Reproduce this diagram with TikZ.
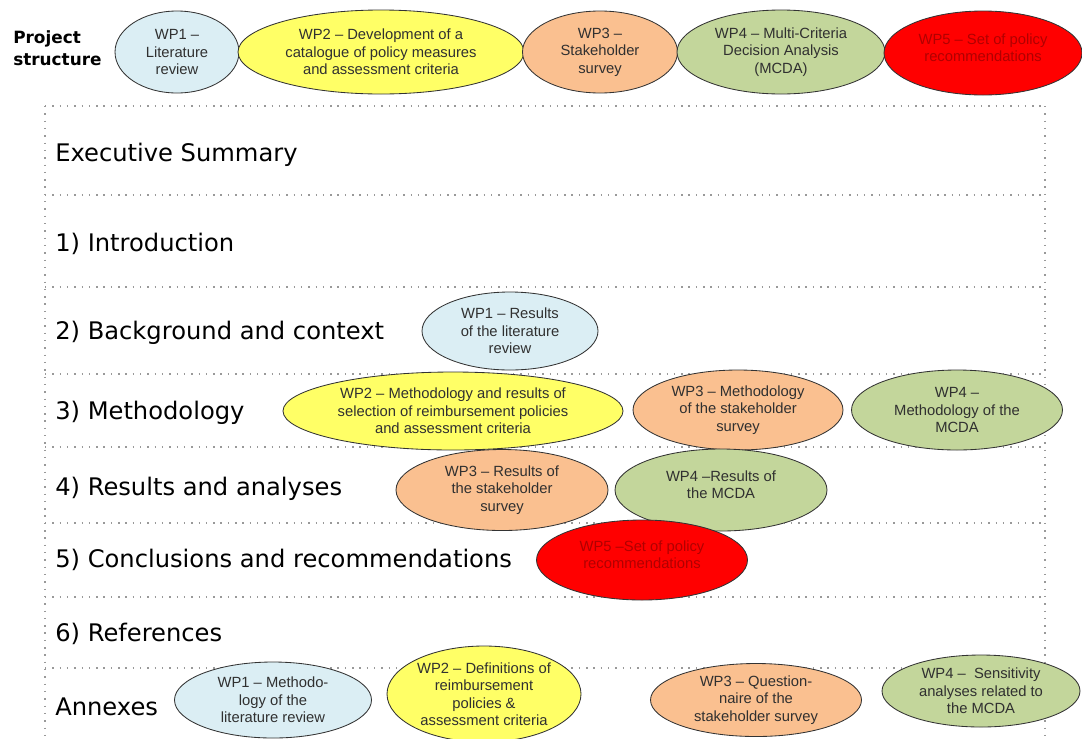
\documentclass[tikz,border=0pt]{standalone}
\usepackage{fontspec}
\setmainfont{Liberation Sans}
\newfontfamily\headfont{DejaVu Sans}
\usetikzlibrary{positioning, shapes.geometric}

\definecolor{wpblue}{HTML}{DBEEF4}
\definecolor{wpyellow}{HTML}{FFFF66}
\definecolor{wporange}{HTML}{FAC090}
\definecolor{wpgreen}{HTML}{C3D69B}
\definecolor{wpred}{HTML}{FF0000}
\definecolor{wpredtext}{HTML}{B00000}
\definecolor{wptext}{HTML}{303030}

\begin{document}
\begin{tikzpicture}[
        x=0.025cm, y=-0.025cm,
        wp/.style={ellipse, draw=black!80, line width=0.6pt, inner sep=0pt, align=center, text=wptext, font=\fontsize{10.5}{12.4}\selectfont},
        esize/.style 2 args={minimum width=#1*0.025cm, minimum height=#2*0.025cm},
        blue wp/.style={wp, fill=wpblue},
        yellow wp/.style={wp, fill=wpyellow},
        orange wp/.style={wp, fill=wporange},
        green wp/.style={wp, fill=wpgreen},
        red wp/.style={wp, fill=wpred, text=wpredtext},
        heading/.style={anchor=base west, inner sep=0pt, font=\headfont\fontsize{17.2}{20}\selectfont},
        divider/.style={draw=black!40, line width=1pt, dash pattern=on 1pt off 4.2pt}
    ]
        \useasboundingbox (0,0) rectangle (1082,738);

        % Frame
        \coordinate (FrameTL) at (45,106);
        \coordinate (FrameTR) at (1045,106);
        \coordinate (FrameBL) at (45,738);
        \coordinate (FrameBR) at (1045,738);
        \foreach \y in {106,195,287,374,447,523,597,668}
            \draw[divider] (45,\y) -- (1045,\y);
        \draw[divider] (FrameTL) -- (FrameBL);
        \draw[divider] (FrameTR) -- (FrameBR);

        % Sections
        \node[heading] (ExecSummary) at (55,161) {Executive Summary};
        \node[heading] (Intro) at (55,251) {1) Introduction};
        \node[heading] (Background) at (55,339) {2) Background and context};
        \node[heading] (Method) at (55,419) {3) Methodology};
        \node[heading] (Results) at (55,495) {4) Results and analyses};
        \node[heading] (Conclusions) at (55,567) {5) Conclusions and recommendations};
        \node[heading] (References) at (55,641) {6) References};
        \node[heading] (Annexes) at (55,715) {Annexes};

        % Project structure
        \node[anchor=west, inner sep=0pt, align=left, font=\headfont\bfseries\fontsize{12}{16}\selectfont] (Structure) at (13,48) {Project\\structure};
        \node[blue wp, esize={124}{82}] (WP1Top) at (177,52) {WP1 –\\Literature\\review};
        \node[yellow wp, esize={286}{84}] (WP2Top) at (381,52) {WP2 – Development of a\\catalogue of policy measures\\and assessment criteria};
        \node[orange wp, esize={155}{82}] (WP3Top) at (600,52) {WP3 –\\Stakeholder\\survey};
        \node[green wp, esize={208}{84}] (WP4Top) at (781,52) {WP4 – Multi-Criteria\\Decision Analysis\\(MCDA)};
        \node[red wp, esize={198}{84}] (WP5Top) at (983,53) {WP5 – Set of policy\\recommendations\\[-5pt]\mbox{}};

        % Work packages per section
        \node[blue wp, esize={176}{78}] (WP1Res) at (510,331) {WP1 – Results\\of the literature\\review};
        \node[yellow wp, esize={340}{78}] (WP2Meth) at (453,411) {WP2 – Methodology and results of\\selection of reimbursement policies\\and assessment criteria};
        \node[orange wp, esize={210}{80}] (WP3Meth) at (738,410) {WP3 – Methodology\\of the stakeholder\\survey};
        \node[green wp, esize={211}{80}] (WP4Meth) at (957,410) {WP4 –\\Methodology of the\\MCDA};
        \node[orange wp, esize={212}{81}] (WP3Res) at (502,490) {WP3 – Results of\\the stakeholder\\survey};
        \node[green wp, esize={212}{82}] (WP4Res) at (721,490) {WP4 –Results of\\the MCDA\\[-5pt]\mbox{}};
        \node[red wp, esize={211}{80}] (WP5Rec) at (642,560) {WP5 –Set of policy\\recommendations\\[-5pt]\mbox{}};

        % Annexes
        \node[blue wp, esize={197}{76}] (WP1Ann) at (273,700) {WP1 – Methodo-\\logy of the\\literature review};
        \node[yellow wp, esize={194}{96}] (WP2Ann) at (484,694) {WP2 – Definitions of\\reimbursement\\policies \&\\assessment criteria};
        \node[orange wp, esize={211}{73}] (WP3Ann) at (756,700) {WP3 – Question-\\naire of the\\stakeholder survey};
        \node[green wp, esize={198}{72}] (WP4Ann) at (981,691) {WP4 –\ \ Sensitivity\\analyses related to\\the MCDA};

    \end{tikzpicture}
\end{document}
